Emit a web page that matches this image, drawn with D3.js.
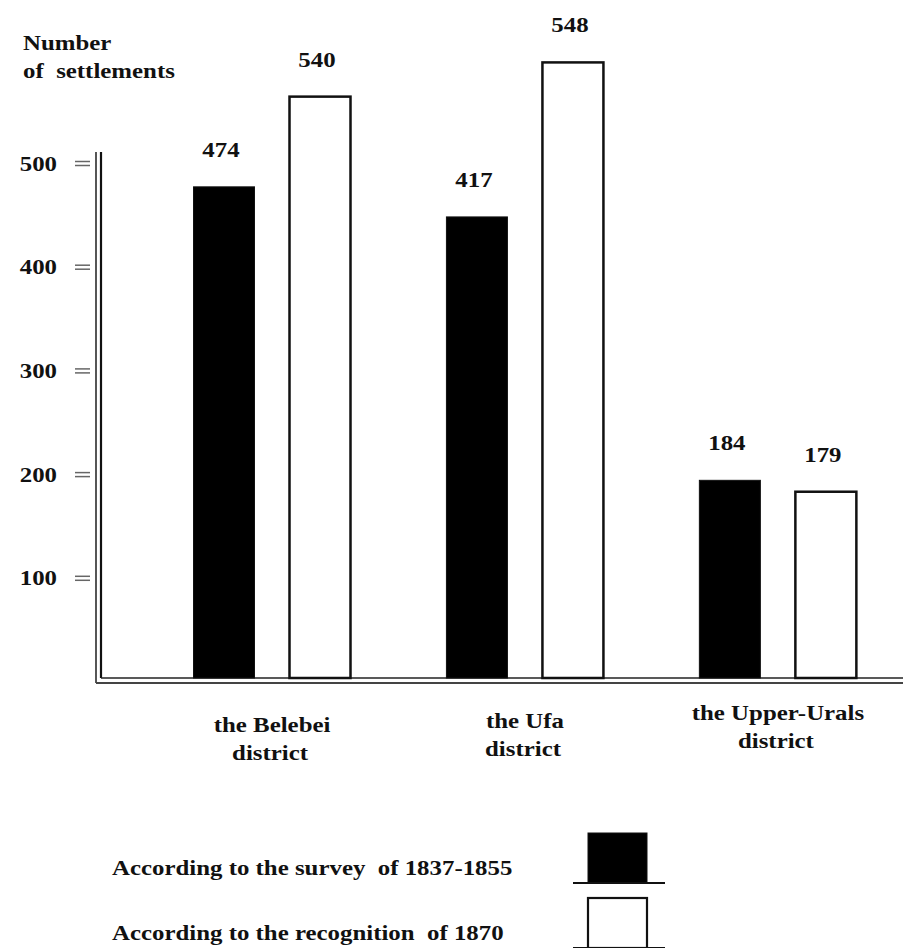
<!DOCTYPE html>
<html>
<head>
<meta charset="utf-8">
<script src="https://cdn.jsdelivr.net/npm/d3@7"></script>
<style>
  html, body { margin: 0; padding: 0; background: #fff; }
  svg text { font-family: "Liberation Serif", "Times New Roman", serif; font-weight: bold; fill: #111; white-space: pre; }
</style>
</head>
<body>
<script>
// ---- data ----
const categories = ["the Belebei district", "the Ufa district", "the Upper-Urals district"];
const categoryLines = [["the Belebei", "district"], ["the Ufa", "district"], ["the Upper-Urals", "district"]];
const seriesNames = ["According to the survey  of 1837-1855", "According to the recognition  of 1870"];
// printed values
const survey = [474, 417, 184];
const recognition = [540, 548, 179];
// bar lengths as drawn against the printed axis
const surveyBar = [477, 448, 194];
const recognitionBar = [564, 597, 183];
const yTicks = [100, 200, 300, 400, 500];
const yTitle = ["Number", "of  settlements"];

// ---- layout ----
const W = 903, H = 948, SX = 1.13, FS = "22px";
const svg = d3.select("body").append("svg").attr("width", W).attr("height", H);

const y = d3.scaleLinear().domain([0, 500]).range([681.5, 163]);
const x0 = d3.scaleBand().domain(categories).range([145.6, 904.4]).padding(0);
const x1 = d3.scaleBand().domain(seriesNames).range([47.9, 204.9]).paddingInner(0.3646).paddingOuter(0);

function txt(sel, x, yy, s, anchor) {
  return sel.append("text")
    .attr("transform", `translate(${x},${yy}) scale(${SX},1)`)
    .attr("text-anchor", anchor || "start")
    .style("font-size", FS)
    .text(s);
}

// y axis title
yTitle.forEach((t, i) => txt(svg, 23, 50 + i * 28, t, "start"));

// y axis with "=" ticks
const ax = svg.append("g").attr("transform", "translate(92,0)")
  .call(d3.axisLeft(y).tickValues(yTicks).tickSize(0).tickPadding(35));
ax.select(".domain").remove();
ax.selectAll(".tick text")
  .attr("x", null).attr("dy", null)
  .attr("transform", `translate(-35,7) scale(${SX},1)`)
  .attr("text-anchor", "end")
  .style("font-size", FS).style("font-family", null).attr("fill", "#111");
ax.attr("font-family", null).attr("font-size", null);
ax.selectAll(".tick").each(function() {
  const g = d3.select(this);
  [-2, 2].forEach(dy => g.append("line")
    .attr("x1", -17).attr("x2", -2).attr("y1", dy).attr("y2", dy)
    .attr("stroke", "#666").attr("stroke-width", 1.5));
});

// axis frame lines (double)
const yTop = 152, y0 = y(0);
svg.append("line").attr("x1", 96).attr("x2", 96).attr("y1", yTop).attr("y2", y0 + 1.5)
  .attr("stroke", "#444").attr("stroke-width", 1.8);
svg.append("line").attr("x1", 101).attr("x2", 101).attr("y1", yTop).attr("y2", y0 - 3.5)
  .attr("stroke", "#111").attr("stroke-width", 2.2);
svg.append("line").attr("x1", 96).attr("x2", W).attr("y1", y0 + 1.5).attr("y2", y0 + 1.5)
  .attr("stroke", "#444").attr("stroke-width", 2);
svg.append("line").attr("x1", 101).attr("x2", W).attr("y1", y0 - 3.5).attr("y2", y0 - 3.5)
  .attr("stroke", "#222").attr("stroke-width", 1.6);

// bars
const rows = categories.map((c, i) => ({
  cat: c,
  items: [
    { s: seriesNames[0], v: survey[i], h: surveyBar[i], fill: "#000" },
    { s: seriesNames[1], v: recognition[i], h: recognitionBar[i], fill: "#fff" }
  ]
}));

const grp = svg.selectAll("g.grp").data(rows).join("g")
  .attr("class", "grp")
  .attr("transform", d => `translate(${x0(d.cat)},0)`);

grp.selectAll("rect").data(d => d.items).join("rect")
  .attr("x", d => x1(d.s))
  .attr("width", x1.bandwidth())
  .attr("y", d => y(d.h))
  .attr("height", d => y0 - 3.5 - y(d.h))
  .attr("fill", d => d.fill)
  .attr("stroke", "#111")
  .attr("stroke-width", d => d.fill === "#000" ? 1 : 2.5);

grp.each(function(d) {
  const g = d3.select(this);
  d.items.forEach(it => txt(g, x1(it.s) + x1.bandwidth() / 2 - 3, y(it.h) - 30, String(it.v), "middle"));
});

// category labels
const lift = [0, 4, 12];
categories.forEach((c, i) => {
  const cx = x0(c) + x0.bandwidth() / 2;
  categoryLines[i].forEach((line, j) => txt(svg, cx - 2 * j, 732 - lift[i] + j * 28, line, "middle"));
});

// legend
const legY = [875, 940];
seriesNames.forEach((s, i) => {
  txt(svg, 112, legY[i], s, "start");
  const top = legY[i] - 42;
  svg.append("rect").attr("x", 588).attr("y", top).attr("width", 59).attr("height", 50)
    .attr("fill", i === 0 ? "#000" : "#fff").attr("stroke", "#111")
    .attr("stroke-width", i === 0 ? 1 : 2.2);
  svg.append("line").attr("x1", 573).attr("x2", 665).attr("y1", top + 50).attr("y2", top + 50)
    .attr("stroke", "#111").attr("stroke-width", 2);
});
</script>
</body>
</html>
